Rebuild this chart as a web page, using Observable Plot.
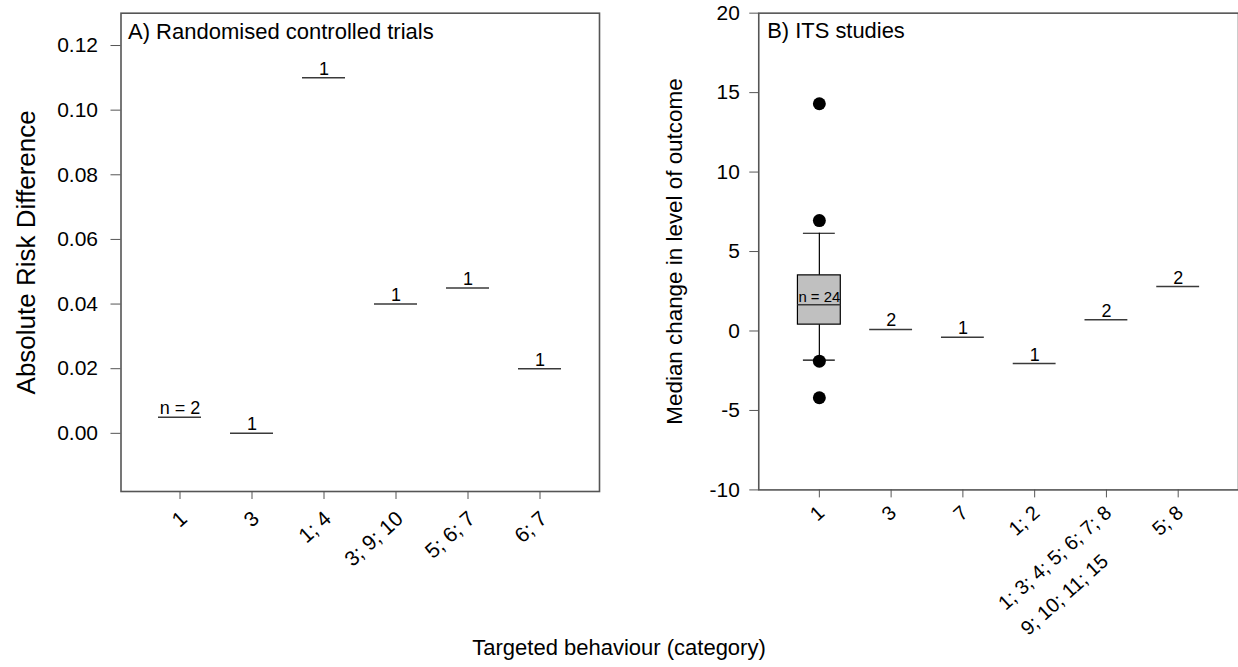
<!DOCTYPE html>
<html>
<head>
<meta charset="utf-8">
<script src="https://cdn.jsdelivr.net/npm/d3@7"></script>
<script src="https://cdn.jsdelivr.net/npm/@observablehq/plot@0.6"></script>
<style>
  html, body { margin: 0; padding: 0; background: #fff; overflow: hidden; }
  #fig { position: relative; width: 1238px; height: 667px; overflow: hidden;
         font-family: "Liberation Sans", Arial, sans-serif; color: #000; }
  #left, #right { position: absolute; top: 0; }
  #left { left: 0; }
  #right { left: 620px; }
  #xtitle { position: absolute; left: 0; width: 1238px; top: 635px; text-align: center;
            font-size: 22px; line-height: 26px; }
</style>
</head>
<body>
<div id="fig">
  <div id="left"></div>
  <div id="right"></div>
  <div id="xtitle">Targeted behaviour (category)</div>
</div>
<script>
// Panel A: randomised controlled trials
const rctCategories = ["1", "3", "1; 4", "3; 9; 10", "5; 6; 7", "6; 7"];
const rctValues = [0.005, 0.0, 0.11, 0.04, 0.045, 0.02];
const rctCounts = ["n = 2", "1", "1", "1", "1", "1"];
const rctTicks = [0, 0.02, 0.04, 0.06, 0.08, 0.10, 0.12];

// Panel B: interrupted time series studies
const itsCategories = ["1", "3", "7", "1; 2", "1; 3; 4; 5; 6; 7; 8\n9; 10; 11; 15", "5; 8"];
const itsValues = [1.65, 0.1, -0.4, -2.05, 0.7, 2.8]; // first value is the box median
const itsCounts = ["n = 24", "2", "1", "1", "2", "2"];
const itsBoxQuartiles = [0.4, 3.5];        // lower and upper quartile of category "1"
const itsWhiskers = [-1.83, 6.15];         // whisker ends of category "1"
const itsOutliers = [14.3, 6.95, -1.9, -4.2];
const itsTicks = [-10, -5, 0, 5, 10, 15, 20];

const font = '"Liberation Sans", Arial, sans-serif';
const lineColor = "#3a3a3a";
const frameColor = "#555";
const labelAngle = 42; // degrees, category labels rise to the right

const rctRows = rctCategories.map((cat, i) => ({cat, value: rctValues[i], n: rctCounts[i]}));
const itsRows = itsCategories.map((cat, i) => ({cat, value: itsValues[i], n: itsCounts[i]}));
const boxRows = [{cat: itsCategories[0], q1: itsBoxQuartiles[0], q3: itsBoxQuartiles[1],
                  lo: itsWhiskers[0], hi: itsWhiskers[1]}];
const whiskerRows = itsWhiskers.map(v => ({cat: itsCategories[0], value: v}));
const outlierRows = itsOutliers.map(v => ({cat: itsCategories[0], value: v}));

// Rotated category labels; a label with several lines is left-aligned as a block
// whose longest line ends at the tick.
const measure = document.createElement("canvas").getContext("2d");
function categoryLabels(categories, {fontSize, dx, dy, lineStep}) {
  measure.font = `${fontSize}px "Liberation Sans"`;
  const a = labelAngle * Math.PI / 180;
  const cos = Math.cos(a), sin = Math.sin(a);
  const marks = [];
  for (const cat of categories) {
    const lines = cat.split("\n");
    const widths = lines.map(l => measure.measureText(l).width);
    const wmax = Math.max(...widths);
    lines.forEach((line, j) => {
      const s = wmax - widths[j];
      const L = j * lineStep;
      marks.push(Plot.text([cat], {
        x: d => d, text: () => line, frameAnchor: "bottom", rotate: -labelAngle,
        textAnchor: "end", lineAnchor: "middle", fontSize,
        dx: dx + L * sin - s * cos, dy: dy + L * cos + s * sin
      }));
    });
  }
  return marks;
}

const common = {
  width: 620,
  height: 600,
  marginTop: 12.7,
  marginBottom: 109,
  style: {fontFamily: font, color: "#000", background: "transparent", overflow: "visible"}
};

const left = Plot.plot({
  ...common,
  marginLeft: 120.5,
  marginRight: 21,
  x: {type: "band", domain: rctCategories, paddingInner: 0.4, paddingOuter: 0.49},
  y: {domain: [-0.018, 0.13]},
  marks: [
    Plot.frame({stroke: frameColor, strokeWidth: 1.6}),
    Plot.axisY({ticks: rctTicks, tickFormat: d3.format(".2f"), tickSize: 10, tickPadding: 13,
                fontSize: 21, label: null, stroke: frameColor}),
    Plot.axisX({tickSize: 8, tickFormat: () => "", label: null, stroke: frameColor}),
    ...categoryLabels(rctCategories, {fontSize: 21, dx: 4, dy: 24, lineStep: 30}),
    Plot.tickY(rctRows, {x: "cat", y: "value", stroke: lineColor, strokeWidth: 1.5}),
    Plot.text(rctRows, {x: "cat", y: "value", text: "n", lineAnchor: "bottom", dy: -3, fontSize: 18}),
    Plot.text(["A) Randomised controlled trials"], {frameAnchor: "top-left", textAnchor: "start",
              lineAnchor: "top", dx: 7, dy: 10.5, fontSize: 22}),
    Plot.text(["Absolute Risk Difference"], {frameAnchor: "left", textAnchor: "middle", rotate: -90,
              dx: -94.5, fontSize: 26})
  ]
});

const right = Plot.plot({
  ...common,
  marginLeft: 138.7,
  marginRight: 0,
  x: {type: "band", domain: itsCategories, paddingInner: 0.4, paddingOuter: 0.51},
  y: {domain: [-10, 20]},
  marks: [
    Plot.frame({stroke: frameColor, strokeWidth: 1.6}),
    Plot.axisY({ticks: itsTicks, tickFormat: d => String(d), tickSize: 9, tickPadding: 10,
                fontSize: 21, label: null, stroke: frameColor}),
    Plot.axisX({tickSize: 8, tickFormat: () => "", label: null, stroke: frameColor}),
    ...categoryLabels(itsCategories, {fontSize: 20, dx: 2, dy: 20, lineStep: 34}),
    // box plot for category "1"
    Plot.ruleX(boxRows, {x: "cat", y1: "lo", y2: "q1", stroke: "#000", strokeWidth: 1.2}),
    Plot.ruleX(boxRows, {x: "cat", y1: "q3", y2: "hi", stroke: "#000", strokeWidth: 1.2}),
    Plot.tickY(whiskerRows, {x: "cat", y: "value", stroke: "#000", strokeWidth: 1.2, insetLeft: 5.5, insetRight: 5.5}),
    Plot.barY(boxRows, {x: "cat", y1: "q1", y2: "q3", fill: "#c0c0c0", stroke: "#000", strokeWidth: 1.2}),
    Plot.tickY(itsRows, {x: "cat", y: "value", stroke: lineColor, strokeWidth: 1.5}),
    Plot.dot(outlierRows, {x: "cat", y: "value", r: 6.5, fill: "#000", stroke: "none"}),
    Plot.text(itsRows, {x: "cat", y: "value", text: "n", lineAnchor: "bottom", dy: -3,
              fontSize: d => d.n.startsWith("n") ? 15 : 18}),
    Plot.text(["B) ITS studies"], {frameAnchor: "top-left", textAnchor: "start",
              lineAnchor: "top", dx: 8.5, dy: 9.5, fontSize: 22}),
    Plot.text(["Median change in level of outcome"], {frameAnchor: "left", textAnchor: "middle", rotate: -90,
              dx: -84, fontSize: 22.5})
  ]
});

document.getElementById("left").append(left);
document.getElementById("right").append(right);
</script>
</body>
</html>
